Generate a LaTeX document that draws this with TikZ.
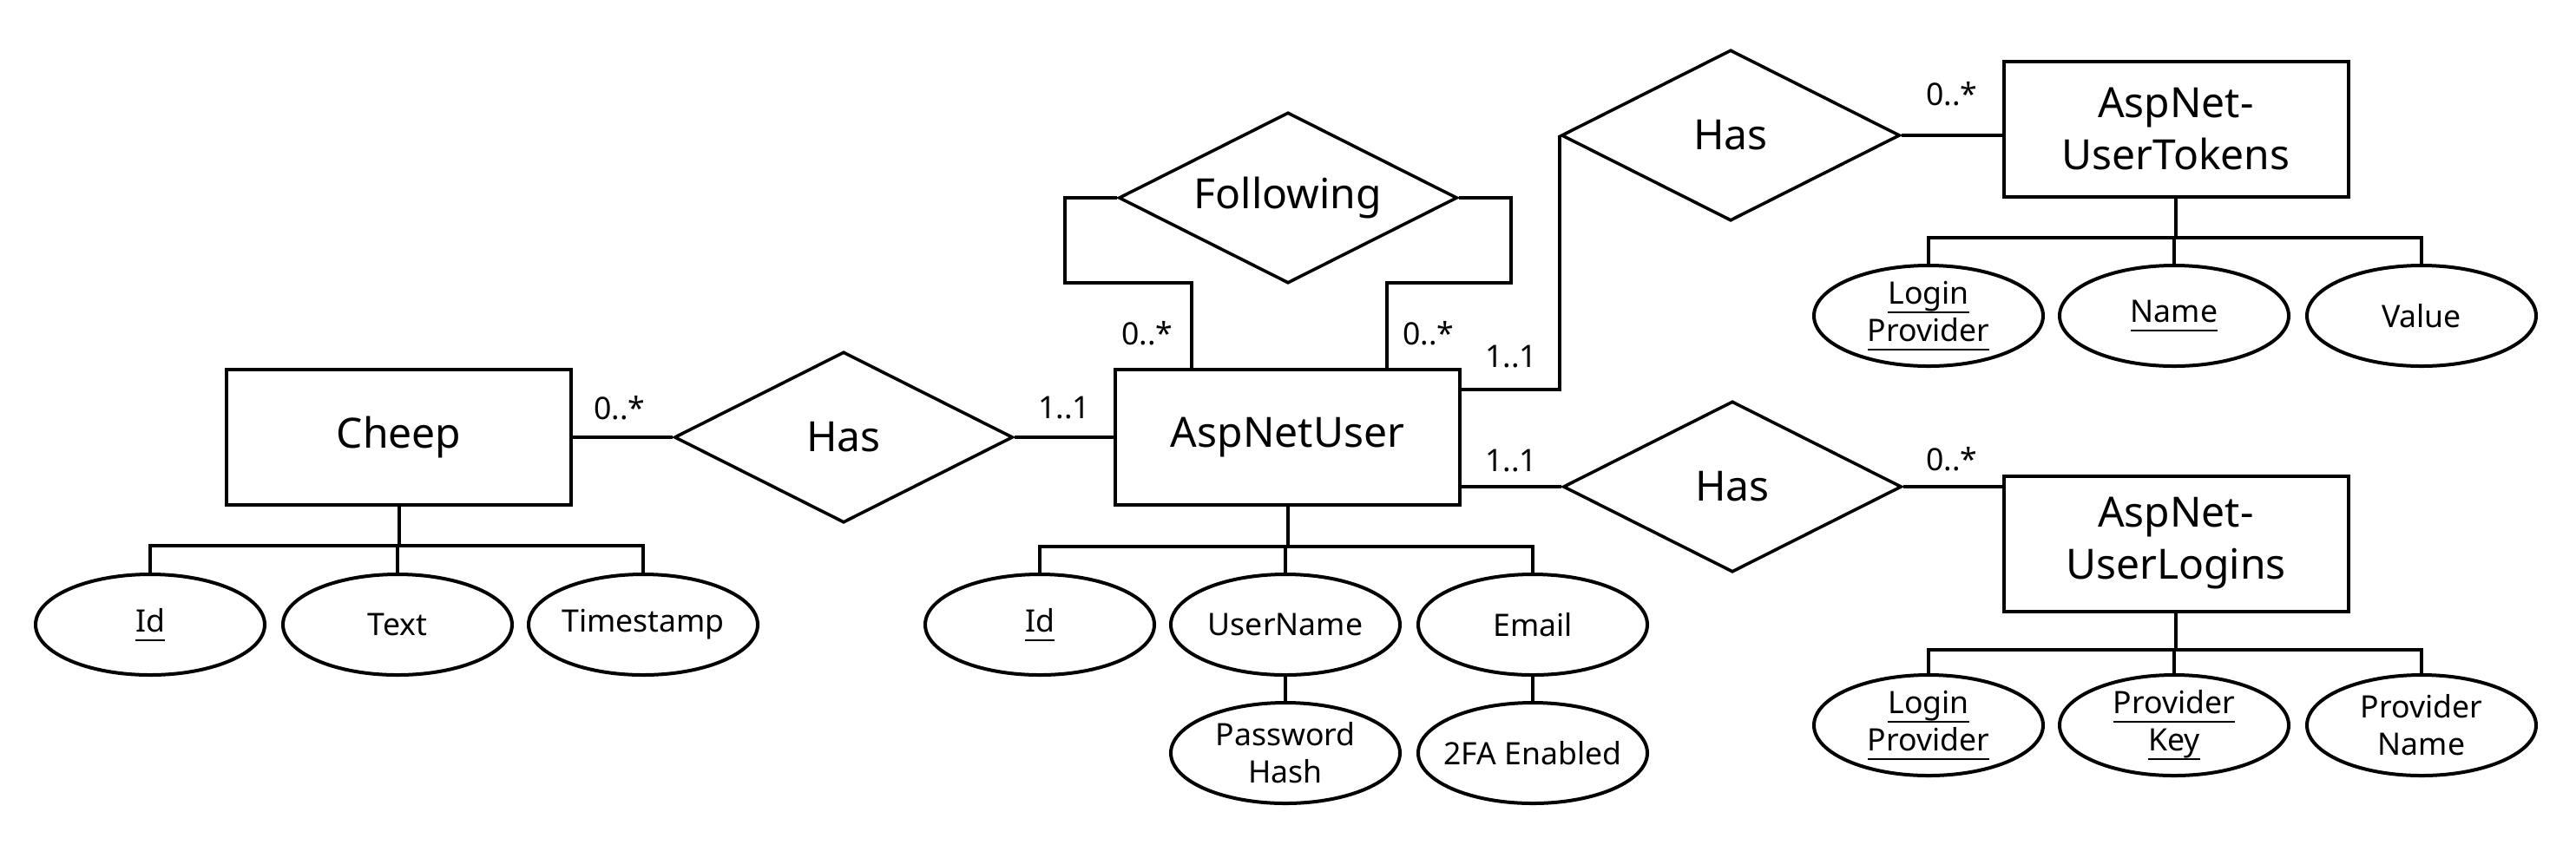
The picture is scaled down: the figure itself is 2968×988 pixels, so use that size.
\documentclass[tikz,border=0pt]{standalone}
\usepackage{fontspec}
\setmainfont{Noto Sans}
\usetikzlibrary{shapes.geometric}
\newcommand\ulx[1]{\setbox0\hbox{#1}\rlap{\rule[-2.6pt]{\wd0}{0.55pt}}\box0}
\tikzset{
  px/.style={x=0.25pt,y=-0.25pt},
  entity/.style={draw,line width=1pt,rectangle,minimum width=99.25pt,minimum height=39pt,inner sep=0pt,align=center,font=\fontsize{12}{15}\selectfont},
  rel/.style={draw,line width=0.9pt,diamond,aspect=2,minimum width=97.5pt,minimum height=49.25pt,inner sep=0pt,font=\fontsize{12}{15}\selectfont},
  attr/.style={draw,line width=1pt,ellipse,minimum width=66pt,minimum height=29pt,inner sep=-3pt,align=center,font=\fontsize{8.9}{10.8}\selectfont},
  card/.style={inner sep=0pt,font=\fontsize{8.9}{10.8}\selectfont},
  conn/.style={line width=1pt}
}
\begin{document}
\begin{tikzpicture}[px]
\useasboundingbox (0,0) rectangle (2968,988);
% entities
\node[entity] (cheep) at (459.5,504) {Cheep};
\node[entity] (user) at (1483.5,504) {AspNetUser};
\node[entity] (tokens) at (2507,148.5) {AspNet-\\UserTokens};
\node[entity] (logins) at (2507,626.5) {AspNet-\\UserLogins};
% relationships
\node[rel] (hasC) at (972,504) {Has};
\node[rel] (follow) at (1484,228) {Following};
\node[rel] (hasT) at (1994,156) {Has};
\node[rel] (hasL) at (1996,561) {Has};
% attributes
\node[attr] (cId) at (173,720) {\ulx{Id}};
\node[attr] (cText) at (458,720) {Text};
\node[attr] (cTs) at (741,720) {Timestamp};
\node[attr] (uId) at (1198,720) {\ulx{Id}};
\node[attr] (uName) at (1481,720) {UserName};
\node[attr] (uEmail) at (1766,720) {Email};
\node[attr] (uPw) at (1481,868) {Password\\Hash};
\node[attr] (u2fa) at (1766,868) {2FA Enabled};
\node[attr] (tLP) at (2222,364) {\ulx{Login}\\\ulx{Provider}};
\node[attr] (tName) at (2505,364) {\ulx{Name}};
\node[attr] (tValue) at (2790,364) {Value};
\node[attr] (lLP) at (2222,836) {\ulx{Login}\\\ulx{Provider}};
\node[attr] (lPK) at (2505,836) {\ulx{Provider}\\\ulx{Key}};
\node[attr] (lPN) at (2790,836) {Provider\\Name};
% cardinalities
\node[card] (k1) at (714,470) {0..*};
\node[card] (k2) at (1226,470) {1..1};
\node[card] (k3) at (1322,384) {0..*};
\node[card] (k4) at (1646,384) {0..*};
\node[card] (k5) at (1741,411) {1..1};
\node[card] (k6) at (1741,531) {1..1};
\node[card] (k7) at (2249,108) {0..*};
\node[card] (k8) at (2249,529) {0..*};
% relationship connectors
\draw[conn] (cheep.east) -- (hasC.west);
\draw[conn] (hasC.east) -- (user.west);
\coordinate (lc) at (1373,326);
\coordinate (rc) at (1598,326);
\draw[conn] (follow.west) -- ++(-60,0) |- (lc) -- (lc |- user.north);
\draw[conn] (follow.east) -- ++(60,0) |- (rc) -- (rc |- user.north);
\coordinate (ut) at (0,449);
\draw[conn] (user.east |- ut) -| (hasT.west);
\draw[conn] (user.east |- hasL.west) -- (hasL.west);
\draw[conn] (hasT.east) -- (hasT.east -| tokens.west);
\draw[conn] (hasL.east) -- (hasL.east -| logins.west);
% attribute trees
\coordinate (cb) at (0,629);
\draw[conn] (cheep.south) -- (cheep.south |- cb);
\draw[conn] (cId.north) -- (cId.north |- cb) -- (cTs.north |- cb) -- (cTs.north);
\draw[conn] (cText.north) -- (cText.north |- cb);
\coordinate (ub) at (0,630);
\draw[conn] (user.south) -- (user.south |- ub);
\draw[conn] (uId.north) -- (uId.north |- ub) -- (uEmail.north |- ub) -- (uEmail.north);
\draw[conn] (uName.north) -- (uName.north |- ub);
\draw[conn] (uName.south) -- (uPw.north);
\draw[conn] (uEmail.south) -- (u2fa.north);
\coordinate (tb) at (0,274);
\draw[conn] (tokens.south) -- (tokens.south |- tb);
\draw[conn] (tLP.north) -- (tLP.north |- tb) -- (tValue.north |- tb) -- (tValue.north);
\draw[conn] (tName.north) -- (tName.north |- tb);
\coordinate (lb) at (0,749);
\draw[conn] (logins.south) -- (logins.south |- lb);
\draw[conn] (lLP.north) -- (lLP.north |- lb) -- (lPN.north |- lb) -- (lPN.north);
\draw[conn] (lPK.north) -- (lPK.north |- lb);
\end{tikzpicture}
\end{document}
